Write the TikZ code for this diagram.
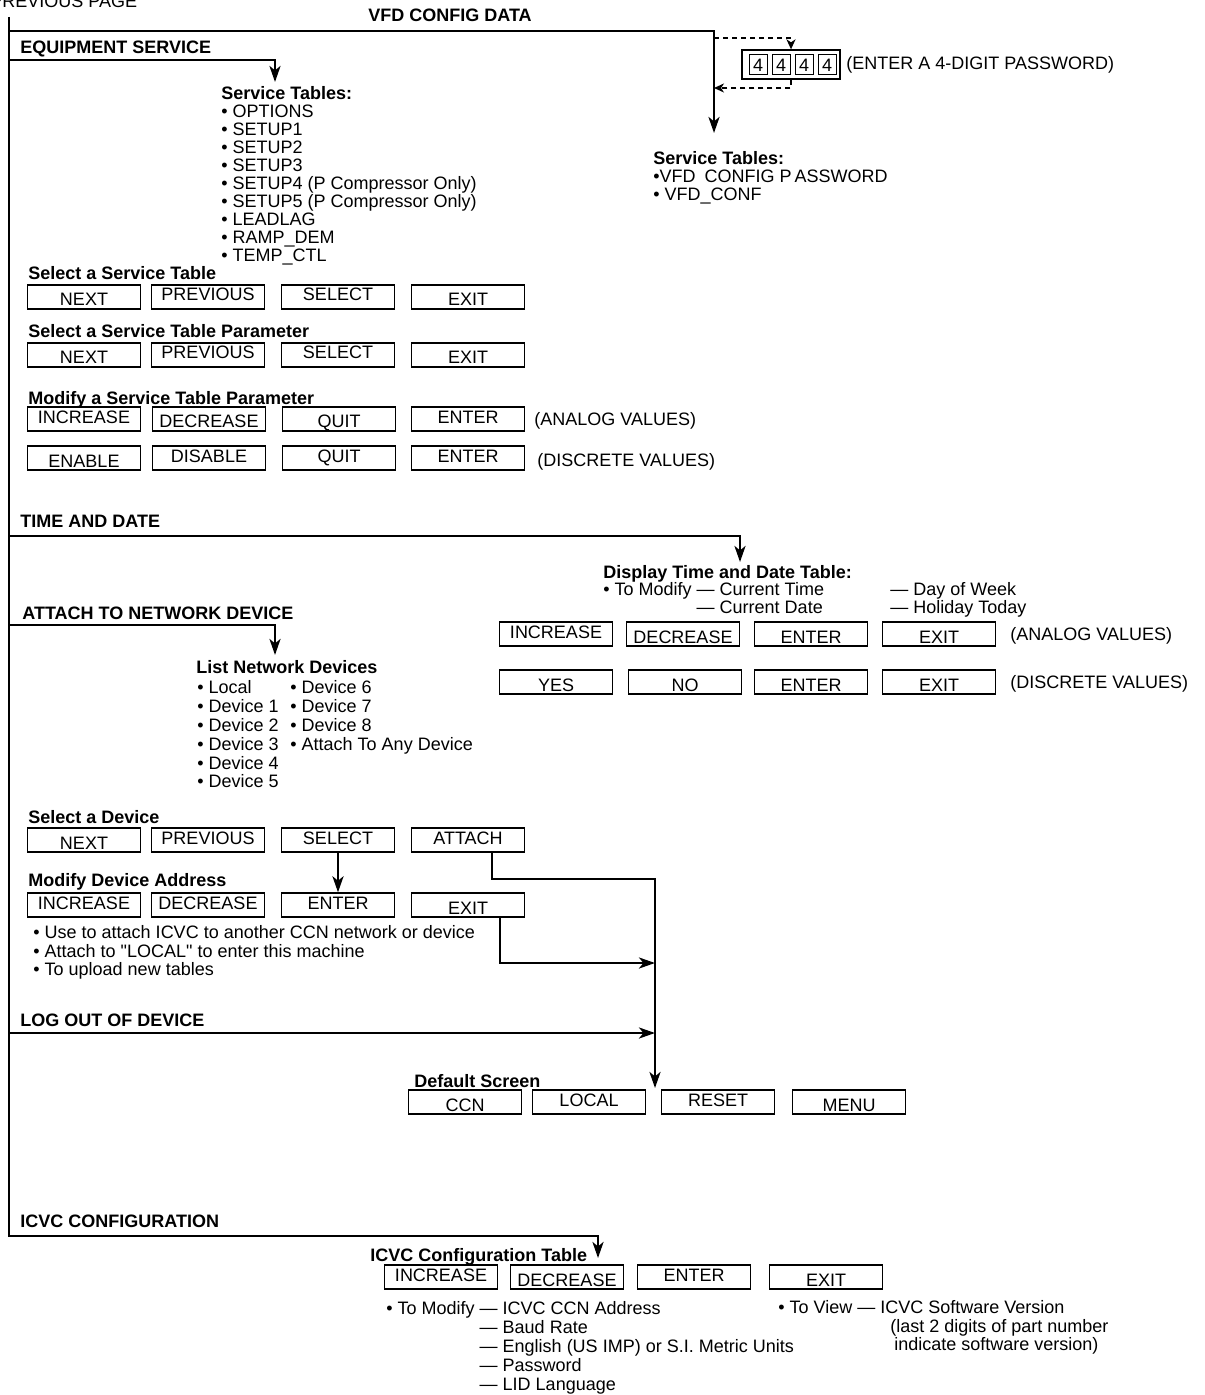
\documentclass[tikz,border=0pt]{standalone}
\usepackage{fontspec}
\setmainfont{Liberation Sans}
\usetikzlibrary{arrows.meta,positioning}

\begin{document}
\begin{tikzpicture}[x=0.5pt,y=-0.5pt,font=\fontsize{9}{9}\selectfont,
btn/.style={draw,line width=.65pt,minimum width=56.5pt,minimum height=12pt,inner sep=0pt,text height=6.5pt,text depth=0pt,font=\fontsize{9}{9}\selectfont},
lowtxt/.style={text height=9pt},hightxt/.style={text height=4pt},
dgt/.style={draw,line width=.5pt,minimum width=9pt,minimum height=10pt,inner sep=0pt,text height=6.5pt,text depth=0pt,font=\fontsize{9}{9}\selectfont},
hd/.style={anchor=base west,inner sep=0pt,font=\fontsize{9}{9}\selectfont\bfseries},
txt/.style={anchor=base west,inner sep=0pt,font=\fontsize{9}{9}\selectfont},
lst/.style={anchor=north west,inner sep=0pt,align=left,font=\fontsize{9}{9}\selectfont},
widelst/.style={lst,font=\fontsize{9}{9.4}\selectfont},
wire/.style={line width=1.3pt},
flow/.style={-{Stealth[length=8pt,width=5.5pt,inset=2.2pt]},line width=1.3pt},
dflow/.style={-{Stealth[length=5pt,width=4.5pt,inset=1.5pt]},line width=.8pt,dash pattern=on 2.5pt off 2pt}]
\useasboundingbox (0,0) rectangle (1204,1395);
\coordinate (top) at (9,17);\coordinate (bot) at (9,1236);
\node[txt] (prev) at (-10,8) {PREVIOUS PAGE};
\node[hd] (vfdlbl) at (368,22) {VFD CONFIG DATA};
\coordinate (vfdin) at (9,31);\coordinate (vfdtip) at (714,133);
\coordinate (pin) at (714,38);\coordinate (pout) at (714,88);
\node[draw,line width=.65pt,minimum width=49pt,minimum height=14.5pt,inner sep=0pt] (pwd) at (791,64.5) {};
\node[dgt] (d1) at (758,65) {4};
\node[dgt,right=2pt of d1] (d2) {4};
\node[dgt,right=2pt of d2] (d3) {4};
\node[dgt,right=2pt of d3] (d4) {4};
\node[txt] (pwdtxt) at (846,70) {(ENTER A 4-DIGIT PASSWORD)};
\node[lst] (vfdtbl) at (653,151.5) {\textbf{Service Tables:}\\•VFD\enspace CONFIG P\,ASSWORD\\• VFD\_CONF};
\draw[flow] (vfdin) -| (vfdtip);
\draw[dflow] (pin) -| (pwd.north);
\draw[dflow] (pwd.south) |- (pout);

\node[hd] (eqlbl) at (20,53.5) {EQUIPMENT SERVICE};
\coordinate (eqin) at (9,60);\coordinate (eqtip) at (275,82);
\draw[flow] (eqin) -| (eqtip);
\node[lst] (svctbl) at (221,86.5) {\textbf{Service Tables:}\\• OPTIONS\\• SETUP1\\• SETUP2\\• SETUP3\\• SETUP4 (P Compressor Only)\\• SETUP5 (P Compressor Only)\\• LEADLAG\\• RAMP\_DEM\\• TEMP\_CTL};
\node[hd] (sthd) at (28,279.5) {Select a Service Table};
\node[btn,lowtxt] (st1) at (84,297) {NEXT};
\node[btn,hightxt] (st2) at (208,297) {PREVIOUS};
\node[btn,hightxt] (st3) at (338,297) {SELECT};
\node[btn,lowtxt] (st4) at (468,297) {EXIT};
\node[hd] (sphd) at (28,337.5) {Select a Service Table Parameter};
\node[btn,lowtxt] (sp1) at (84,355) {NEXT};
\node[btn,hightxt] (sp2) at (208,355) {PREVIOUS};
\node[btn,hightxt] (sp3) at (338,355) {SELECT};
\node[btn,lowtxt] (sp4) at (468,355) {EXIT};
\node[hd] (mphd) at (28,404.5) {Modify a Service Table Parameter};
\node[btn,hightxt] (ma1) at (84,419) {INCREASE};
\node[btn,lowtxt] (ma2) at (209,419) {DECREASE};
\node[btn,lowtxt] (ma3) at (339,419) {QUIT};
\node[btn,hightxt] (ma4) at (468,419) {ENTER};
\node[txt] (matxt) at (534,425.5) {(ANALOG VALUES)};
\node[btn,lowtxt] (md1) at (84,458) {ENABLE};
\node[btn,hightxt] (md2) at (209,458) {DISABLE};
\node[btn,hightxt] (md3) at (339,458) {QUIT};
\node[btn,hightxt] (md4) at (468,458) {ENTER};
\node[txt] (mdtxt) at (537,466.5) {(DISCRETE VALUES)};

\node[hd] (tdlbl) at (20,527.5) {TIME AND DATE};
\coordinate (tdin) at (9,536);\coordinate (tdtip) at (740,562);
\draw[flow] (tdin) -| (tdtip);
\node[hd] (tdtbl) at (603,578.5) {Display Time and Date Table:};
\node[lst] (tdmod) at (603,582.5) {• To Modify — Current Time\\\phantom{• To Modify }— Current Date};
\node[lst] (tdday) at (890,582.5) {— Day of Week\\— Holiday Today};
\node[btn,hightxt] (ta1) at (556,634) {INCREASE};
\node[btn,lowtxt] (ta2) at (683,634) {DECREASE};
\node[btn,lowtxt] (ta3) at (811,634) {ENTER};
\node[btn,lowtxt] (ta4) at (939,634) {EXIT};
\node[txt] (tatxt) at (1010,640.5) {(ANALOG VALUES)};
\node[btn,lowtxt] (td1) at (556,682) {YES};
\node[btn,lowtxt] (td2) at (685,682) {NO};
\node[btn,lowtxt] (td3) at (811,682) {ENTER};
\node[btn,lowtxt] (td4) at (939,682) {EXIT};
\node[txt] (tdtxt) at (1010,688.5) {(DISCRETE VALUES)};

\node[hd] (atlbl) at (22,619.5) {ATTACH TO NETWORK DEVICE};
\coordinate (atin) at (9,625);\coordinate (attip) at (275,655);
\draw[flow] (atin) -| (attip);
\node[hd] (nettbl) at (196,673.5) {List Network Devices};
\node[widelst] (devl) at (197,680.5) {• Local\\• Device 1\\• Device 2\\• Device 3\\• Device 4\\• Device 5};
\node[widelst] (devr) at (290,680.5) {• Device 6\\• Device 7\\• Device 8\\• Attach To Any Device};
\node[hd] (sdhd) at (28,823.5) {Select a Device};
\node[btn,lowtxt] (sd1) at (84,840) {NEXT};
\node[btn,hightxt] (sd2) at (208,840) {PREVIOUS};
\node[btn,hightxt] (sd3) at (338,840) {SELECT};
\node[btn,hightxt] (sd4) at (468,840) {ATTACH};
\node[hd] (dahd) at (28,886.5) {Modify Device Address};
\node[btn,hightxt] (da1) at (84,905) {INCREASE};
\node[btn,hightxt] (da2) at (208,905) {DECREASE};
\node[btn,hightxt] (da3) at (338,905) {ENTER};
\node[btn,lowtxt] (da4) at (468,905) {EXIT};
\node[lst,font=\fontsize{9}{9.25}\selectfont] (danote) at (33,925.5) {• Use to attach ICVC to another CCN network or device\\• Attach to \textquotedbl LOCAL\textquotedbl{} to enter this machine\\• To upload new tables};
\draw[flow] (sd3.south) -- (da3.north);
\coordinate (dsjoin) at (655,879);\coordinate (dstip) at (655,1088);\coordinate (exin) at (655,963);
\draw[flow] ([xshift=12pt]sd4.south) |- (dsjoin) -- (dstip);
\draw[flow] ([xshift=16pt]da4.south) |- (exin);

\node[hd] (lolbl) at (20,1026.5) {LOG OUT OF DEVICE};
\coordinate (login) at (9,1033);\coordinate (logtip) at (655,1033);
\draw[flow] (login) -- (logtip);
\node[hd] (dshd) at (414,1087.5) {Default Screen};
\node[btn,lowtxt] (ds1) at (465,1102) {CCN};
\node[btn,hightxt] (ds2) at (589,1102) {LOCAL};
\node[btn,hightxt] (ds3) at (718,1102) {RESET};
\node[btn,lowtxt] (ds4) at (849,1102) {MENU};

\node[hd] (iclbl) at (20,1227.5) {ICVC CONFIGURATION};
\coordinate (icin) at (598,1258);
\draw[flow] (top) -- (bot) -| (icin);
\node[hd] (ictbl) at (370,1261.5) {ICVC Configuration Table};
\node[btn,hightxt] (ic1) at (441,1277) {INCREASE};
\node[btn,lowtxt] (ic2) at (567,1277) {DECREASE};
\node[btn,hightxt] (ic3) at (694,1277) {ENTER};
\node[btn,lowtxt] (ic4) at (826,1277) {EXIT};
\node[widelst] (icmod) at (386,1301.5) {• To Modify — ICVC CCN Address\\\phantom{• To Modify }— Baud Rate\\\phantom{• To Modify }— English (US IMP) or S.I. Metric Units\\\phantom{• To Modify }— Password\\\phantom{• To Modify }— LID Language};
\node[txt] (icview) at (778,1313.5) {• To View — ICVC Software Version};
\node[lst] (icnote) at (890,1319.5) {(last 2 digits of part number\\\hspace{2pt}indicate software version)};
\end{tikzpicture}
\end{document}
